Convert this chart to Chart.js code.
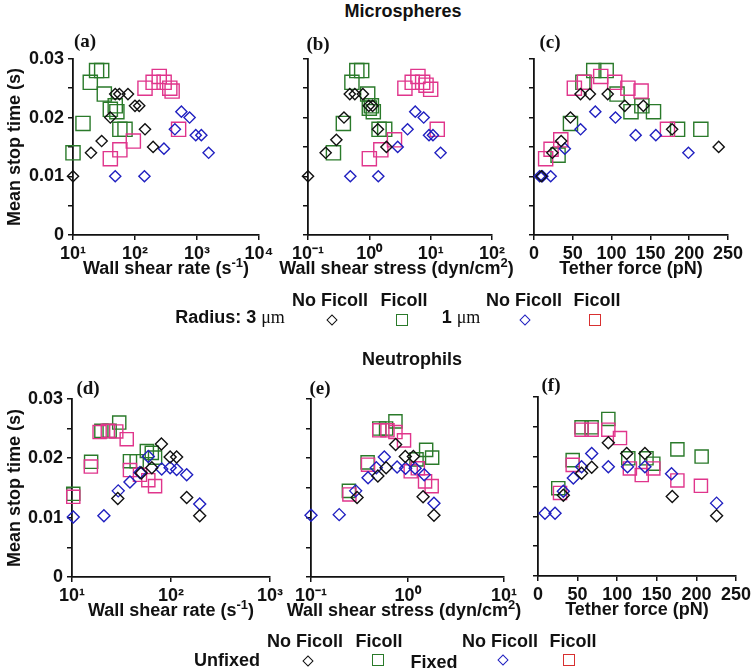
<!DOCTYPE html>
<html>
<head>
<meta charset="utf-8">
<script src="https://cdn.jsdelivr.net/npm/chart.js@4.4.0/dist/chart.umd.min.js"></script>
<style>
  body { margin: 0; background: #fff; }
  #page { position: relative; width: 751px; height: 670px; overflow: hidden;
          font-family: "Liberation Sans", Arial, sans-serif; font-weight: bold; color: #111; }
  .box { position: absolute; }
  .txt { position: absolute; white-space: nowrap; font-size: 18px; line-height: 1; transform: translate(-50%, -50%); }
  .txt sup { font-size: 13px; line-height: 0; vertical-align: 7px; }
  .mu { font-family: "Liberation Serif", serif; font-weight: normal; }
  .lab { position: absolute; white-space: nowrap; font-family: "Liberation Serif", serif; font-weight: bold;
         font-size: 19px; line-height: 1; transform: translate(-50%, -50%); }
  .dia { position: absolute; width: 6px; height: 6px; border: 1.6px solid; transform: translate(-50%, -50%) rotate(45deg); }
  .sq { position: absolute; width: 10px; height: 10px; border: 1.6px solid; transform: translate(-50%, -50%); }
</style>
</head>
<body>
<div id="page"></div>
<script>
// ===== Data: [x, mean stop time (s)] =====
// Microspheres, x = wall shear rate (s-1)
const a3NoFicoll = [[10, 0.010], [19.5, 0.014], [29, 0.016], [40, 0.020], [48, 0.024], [56, 0.024], [77, 0.024], [100, 0.022], [117, 0.022], [145, 0.018], [196, 0.015]];
const a3Ficoll = [[10, 0.014], [14.5, 0.019], [19, 0.026], [24, 0.028], [29, 0.028], [32, 0.024], [40, 0.0214], [48, 0.022], [51, 0.021], [57, 0.018], [69, 0.018]];
const a1NoFicoll = [[48, 0.010], [142, 0.010], [293, 0.0147], [440, 0.018], [560, 0.021], [760, 0.020], [955, 0.017], [1175, 0.017], [1540, 0.014]];
const a1Ficoll = [[40, 0.013], [57, 0.0145], [94, 0.016], [145, 0.025], [196, 0.026], [246, 0.027], [295, 0.026], [364, 0.025], [397, 0.0245], [505, 0.018]];
// Microspheres, x = wall shear stress (dyn/cm2)
const b3NoFicoll = [[0.1, 0.010], [0.194, 0.014], [0.29, 0.0162], [0.386, 0.020], [0.48, 0.024], [0.58, 0.024], [0.785, 0.024], [0.98, 0.022], [1.13, 0.022], [1.38, 0.018], [1.9, 0.015]];
const b3Ficoll = [[0.26, 0.014], [0.377, 0.019], [0.52, 0.026], [0.625, 0.028], [0.75, 0.028], [0.94, 0.024], [1.0, 0.0216], [1.08, 0.022], [1.16, 0.021], [1.44, 0.018], [1.78, 0.018]];
const b1NoFicoll = [[0.49, 0.010], [1.4, 0.010], [2.9, 0.015], [4.2, 0.018], [5.6, 0.021], [7.7, 0.020], [9.4, 0.017], [10.9, 0.017], [14.5, 0.014]];
const b1Ficoll = [[1.0, 0.013], [1.54, 0.0145], [2.57, 0.0162], [3.8, 0.025], [5.0, 0.026], [6.2, 0.027], [7.4, 0.026], [8.4, 0.0255], [10, 0.0248], [12.8, 0.018]];
// Microspheres, x = tether force (pN)
const c3NoFicoll = [[9.5, 0.010], [23.7, 0.014], [35, 0.016], [47, 0.020], [60, 0.024], [72, 0.024], [95, 0.024], [117, 0.022], [141, 0.022], [178, 0.018], [238, 0.015]];
const c3Ficoll = [[31, 0.0136], [47, 0.019], [63, 0.026], [77, 0.028], [93, 0.028], [107, 0.024], [125, 0.021], [139, 0.022], [154, 0.021], [185, 0.018], [215, 0.018]];
const c1NoFicoll = [[7.3, 0.010], [10.8, 0.010], [21.5, 0.010], [39.7, 0.0147], [60, 0.018], [79, 0.021], [105, 0.020], [131, 0.017], [157, 0.017], [199, 0.014]];
const c1Ficoll = [[15, 0.013], [22, 0.0146], [34.5, 0.0162], [52, 0.025], [65, 0.026], [86, 0.027], [104, 0.026], [121, 0.025], [138, 0.0245], [172, 0.018]];
// Neutrophils, x = wall shear rate (s-1)
const dUnfixedNo = [[29, 0.0132], [50, 0.0175], [64, 0.0184], [80, 0.0224], [98, 0.0202], [114, 0.0202], [144, 0.0134], [195, 0.0103]];
const dUnfixedFicoll = [[10.3, 0.014], [15.6, 0.0194], [19.8, 0.0246], [24, 0.0246], [30, 0.026], [38.5, 0.0195], [45, 0.0195], [57, 0.0212], [64, 0.0209], [69, 0.0201]];
const dFixedNo = [[10.3, 0.0101], [21, 0.0103], [29.3, 0.0145], [38.5, 0.016], [48.6, 0.0176], [59, 0.0203], [80.6, 0.0182], [98, 0.0184], [114, 0.0181], [144, 0.0172], [195, 0.0123]];
const dFixedFicoll = [[10.3, 0.0135], [15.5, 0.0186], [19, 0.0244], [23, 0.0246], [28, 0.0245], [35.7, 0.0232], [38.5, 0.018], [48.6, 0.0172], [59, 0.0163], [69, 0.0153]];
// Neutrophils, x = wall shear stress (dyn/cm2)
const eUnfixedNo = [[0.3, 0.0134], [0.493, 0.017], [0.6, 0.0184], [0.753, 0.0223], [0.948, 0.0203], [1.15, 0.0203], [1.45, 0.0135], [1.88, 0.0104]];
const eUnfixedFicoll = [[0.247, 0.0145], [0.386, 0.0193], [0.51, 0.025], [0.6, 0.025], [0.75, 0.0262], [1.24, 0.0198], [1.56, 0.0214], [1.8, 0.0201]];
const eFixedNo = [[0.1, 0.0104], [0.196, 0.0105], [0.29, 0.0145], [0.39, 0.0167], [0.475, 0.0184], [0.575, 0.0202], [0.78, 0.0185], [0.955, 0.0183], [1.2, 0.0183], [1.49, 0.0172], [1.88, 0.0124]];
const eFixedFicoll = [[0.25, 0.0139], [0.39, 0.0189], [0.51, 0.0247], [0.62, 0.0247], [0.75, 0.0244], [0.92, 0.023], [1.08, 0.0178], [1.28, 0.0183], [1.52, 0.0161], [1.78, 0.0153]];
// Neutrophils, x = tether force (pN)
const fUnfixedNo = [[32, 0.0135], [55, 0.0172], [67.8, 0.0182], [88.8, 0.0223], [112, 0.0205], [135, 0.0205], [169.5, 0.0133], [225.5, 0.0101]];
const fUnfixedFicoll = [[25.6, 0.0147], [43.8, 0.0194], [55, 0.0249], [67.7, 0.0249], [88.8, 0.0263], [114, 0.0197], [137, 0.0197], [145.6, 0.0188], [176, 0.0212], [206.6, 0.020]];
const fFixedNo = [[8.8, 0.0105], [21.5, 0.0105], [32, 0.0142], [44.6, 0.0164], [55, 0.0183], [67.8, 0.0205], [88.8, 0.0183], [113, 0.0183], [135, 0.0183], [168.6, 0.0171], [225.5, 0.0122]];
const fFixedFicoll = [[27.8, 0.0139], [43.8, 0.0186], [55, 0.0245], [67.7, 0.0245], [88.8, 0.0245], [103.5, 0.0231], [116, 0.018], [131, 0.0169], [145.6, 0.018], [176, 0.016], [205.7, 0.0151]];

// tick values
const shearRateTicksTop = [10, 100, 1000, 10000];
const shearStressTicksTop = [0.1, 1, 10, 100];
const shearRateTicksBottom = [10, 100, 1000];
const shearStressTicksBottom = [0.1, 1, 10];
const forceTicks = [0, 50, 100, 150, 200, 250];
const stopTimeTicks = [0, 0.005, 0.01, 0.015, 0.02, 0.025, 0.03];

// ===== Styles =====
const INK = '#111';
const FONT = '"Liberation Sans", Arial, sans-serif';
const seriesStyles = [
  { color: '#111111', shape: 'rectRot' },   // 3 um / unfixed, no Ficoll
  { color: '#2020c0', shape: 'rectRot' },   // 1 um / fixed, no Ficoll
  { color: '#e0358c', shape: 'rect' },      // 1 um / fixed, Ficoll
  { color: '#2a7a2a', shape: 'rect' },      // 3 um / unfixed, Ficoll
];

const SUP = { '-': '⁻', '0': '⁰', '1': '¹', '2': '²', '3': '³', '4': '⁴' };
function powLabel(v) {
  const e = Math.round(Math.log10(v));
  return '10' + String(e).split('').map((c) => SUP[c]).join('');
}

const page = document.getElementById('page');

function addText(html, cx, cy, cls) {
  const el = document.createElement('div');
  el.className = cls || 'txt';
  el.innerHTML = html;
  el.style.left = cx + 'px';
  el.style.top = cy + 'px';
  page.appendChild(el);
}
function addSym(kind, color, cx, cy) {
  const el = document.createElement('div');
  el.className = kind;
  el.style.borderColor = color;
  el.style.left = cx + 'px';
  el.style.top = cy + 'px';
  page.appendChild(el);
}

function makePanel(p) {
  const padL = p.yTitle ? p.left : 12;
  const padT = 12, padR = 24, padB = 30;
  const w = p.right - p.left + padL + padR;
  const h = p.bottom - p.top + padT + padB;
  const wrap = document.createElement('div');
  wrap.className = 'box';
  wrap.style.left = (p.left - padL) + 'px';
  wrap.style.top = (p.top - padT) + 'px';
  wrap.style.width = w + 'px';
  wrap.style.height = h + 'px';
  const canvas = document.createElement('canvas');
  canvas.width = w;
  canvas.height = h;
  canvas.style.width = w + 'px';
  canvas.style.height = h + 'px';
  wrap.appendChild(canvas);
  page.appendChild(wrap);

  const small = p.small;
  const datasets = p.series.map((pts, i) => {
    const st = seriesStyles[i];
    const isSq = st.shape === 'rect';
    return {
      data: pts.map(([x, y]) => ({ x, y })),
      pointStyle: st.shape,
      pointRadius: isSq ? (small ? 9.3 : 10) : (small ? 6 : 5.6),
      borderColor: st.color,
      backgroundColor: 'rgba(0,0,0,0)',
      pointBorderWidth: 1.4,
      showLine: false,
      clip: false,
    };
  });

  const tickFont = { family: FONT, size: 18, weight: 'bold' };
  const gridOpts = { drawOnChartArea: false, drawTicks: true, tickLength: 5, color: INK, lineWidth: 1.5 };

  new Chart(canvas.getContext('2d'), {
    type: 'scatter',
    data: { datasets },
    options: {
      responsive: false,
      animation: false,
      events: [],
      layout: { autoPadding: false, padding: { top: padT, right: padR, left: 0, bottom: 0 } },
      plugins: { legend: { display: false }, tooltip: { enabled: false } },
      scales: {
        x: {
          type: p.xType,
          position: 'bottom',
          min: p.xTicks[0],
          max: p.xTicks[p.xTicks.length - 1],
          afterBuildTicks: (s) => { s.ticks = p.xTicks.map((v) => ({ value: v })); },
          afterFit: (s) => { s.height = padB; },
          ticks: {
            autoSkip: false,
            maxRotation: 0,
            padding: 3,
            color: INK,
            font: tickFont,
            callback: (v) => (p.xType === 'logarithmic' ? powLabel(v) : String(v)),
          },
          grid: gridOpts,
          border: { display: true, color: INK, width: 1.8 },
        },
        y: {
          type: 'linear',
          min: 0,
          max: 0.03,
          afterBuildTicks: (s) => { s.ticks = stopTimeTicks.map((v) => ({ value: v })); },
          afterFit: (s) => { s.width = padL; },
          ticks: {
            autoSkip: false,
            padding: 4,
            color: INK,
            font: tickFont,
            callback: (v) => {
              if (!p.yTitle) return '';
              const k = Math.round(v * 1000);
              if (k % 10 !== 0) return '';
              return k === 0 ? '0' : v.toFixed(2);
            },
          },
          grid: gridOpts,
          border: { display: true, color: INK, width: 1.8 },
          title: { display: !!p.yTitle, text: 'Mean stop time (s)', color: INK, font: tickFont, padding: { top: 4, bottom: 0 } },
        },
      },
    },
  });

  // x axis title, allowed to run wider than the plot like in the figure
  addText(p.xTitle, (p.left + p.right) / 2, p.bottom + 33);
}

const panels = [
  { left: 73, right: 259, top: 56, bottom: 235, xType: 'logarithmic', xTicks: shearRateTicksTop, xTitle: 'Wall shear rate (s<sup>-1</sup>)', yTitle: true, series: [a3NoFicoll, a1NoFicoll, a1Ficoll, a3Ficoll] },
  { left: 301, right: 492, top: 56, bottom: 235, xType: 'logarithmic', xTicks: shearStressTicksTop, xTitle: 'Wall shear stress (dyn/cm<sup>2</sup>)', series: [b3NoFicoll, b1NoFicoll, b1Ficoll, b3Ficoll] },
  { left: 534, right: 728, top: 56, bottom: 235, xType: 'linear', xTicks: forceTicks, xTitle: 'Tether force (pN)', series: [c3NoFicoll, c1NoFicoll, c1Ficoll, c3Ficoll] },
  { left: 72, right: 270, top: 396, bottom: 577, xType: 'logarithmic', xTicks: shearRateTicksBottom, xTitle: 'Wall shear rate (s<sup>-1</sup>)', yTitle: true, small: true, series: [dUnfixedNo, dFixedNo, dFixedFicoll, dUnfixedFicoll] },
  { left: 304, right: 504, top: 396, bottom: 577, xType: 'logarithmic', xTicks: shearStressTicksBottom, xTitle: 'Wall shear stress (dyn/cm<sup>2</sup>)', small: true, series: [eUnfixedNo, eFixedNo, eFixedFicoll, eUnfixedFicoll] },
  { left: 538, right: 736, top: 394, bottom: 576, xType: 'linear', xTicks: forceTicks, xTitle: 'Tether force (pN)', small: true, series: [fUnfixedNo, fFixedNo, fFixedFicoll, fUnfixedFicoll] },
];
panels.forEach(makePanel);

// ===== Titles & legends =====
addText('Microspheres', 403, 11);
addText('Neutrophils', 412, 359);

addText('(a)', 85, 40, 'lab');
addText('(b)', 318, 43, 'lab');
addText('(c)', 550, 41, 'lab');
addText('(d)', 88, 387, 'lab');
addText('(e)', 320, 387, 'lab');
addText('(f)', 551, 384, 'lab');

// Microspheres legend
addText('No Ficoll', 330, 300);
addText('Ficoll', 404, 300);
addText('No Ficoll', 524, 300);
addText('Ficoll', 597, 300);
addText('Radius: 3 <span class="mu">μm</span>', 230, 317);
addText('1 <span class="mu">μm</span>', 461, 317);
addSym('dia', '#111111', 332, 320);
addSym('sq', '#2a7a2a', 402, 320);
addSym('dia', '#2020c0', 525, 320);
addSym('sq', '#d83030', 595, 320);

// Neutrophils legend
addText('No Ficoll', 305, 641);
addText('Ficoll', 379, 641);
addText('No Ficoll', 500, 641);
addText('Ficoll', 573, 641);
addText('Unfixed', 227, 660);
addText('Fixed', 434, 662);
addSym('dia', '#111111', 308, 661);
addSym('sq', '#2a7a2a', 378, 660);
addSym('dia', '#2020c0', 503, 660);
addSym('sq', '#d83030', 569, 660);
</script>
</body>
</html>
